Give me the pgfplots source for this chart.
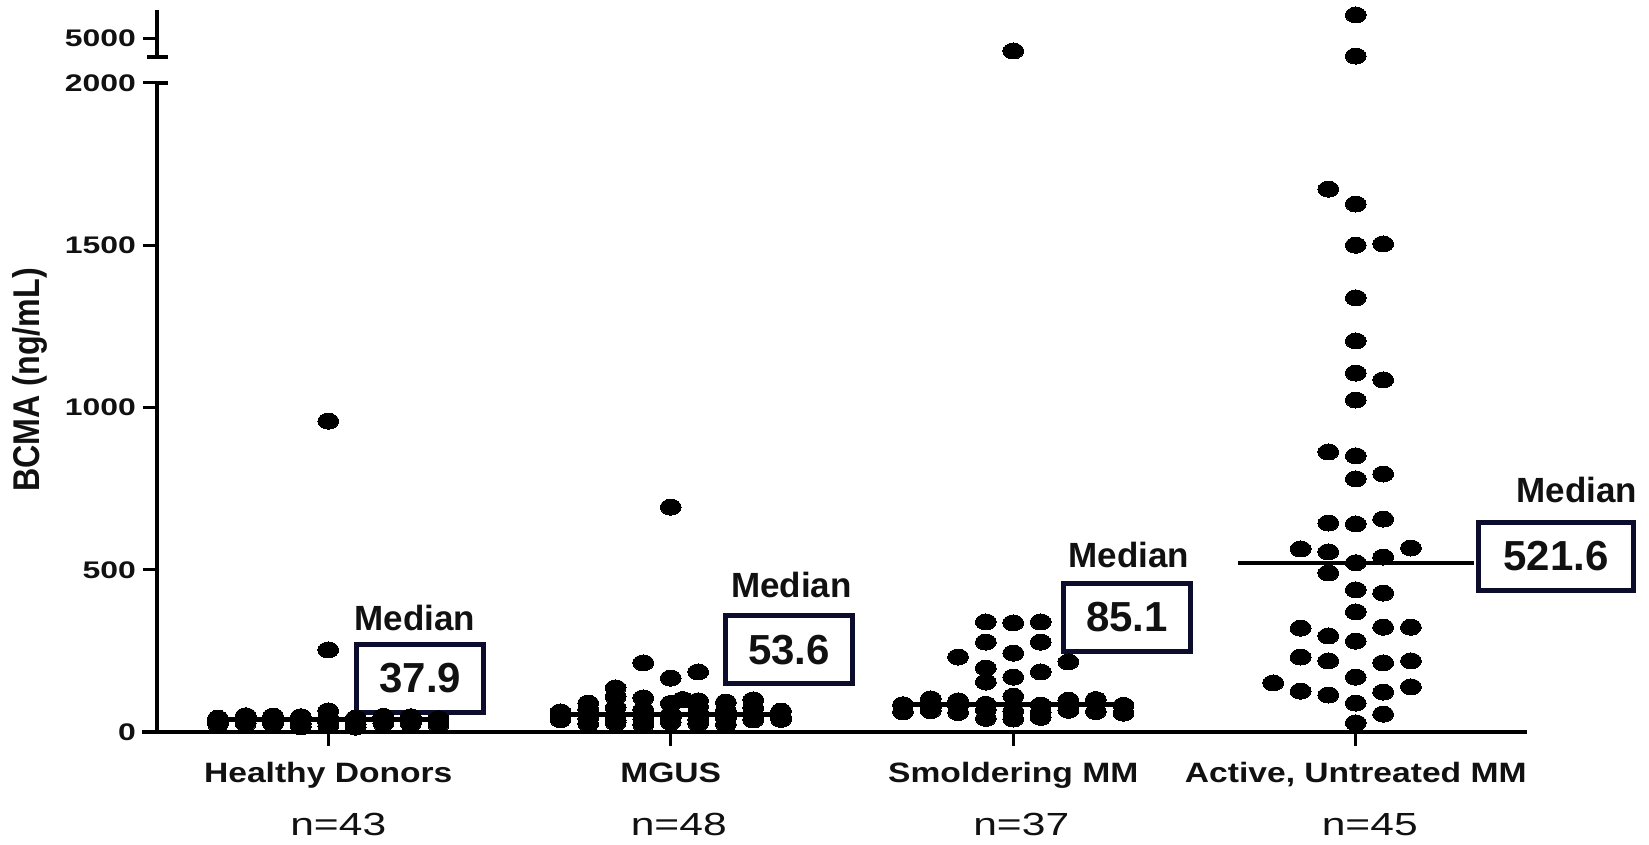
\documentclass[border=0pt]{standalone}
\usepackage{pgfplots}
\pgfplotsset{compat=1.18}
\usepackage{fontspec}
\usepackage{graphicx}
\setmainfont{Liberation Sans}
\newfontfamily\tickfont[FakeStretch=1.33]{Liberation Sans}
\newfontfamily\catfont[FakeStretch=1.2]{Liberation Sans}
\definecolor{boxnavy}{RGB}{12,12,45}
\definecolor{txt}{RGB}{17,17,17}
\begin{document}
\begin{tikzpicture}
\pgfplotsset{
  dotstyle/.style={only marks, mark=*, mark size=4pt,
    mark options={xscale=1.3, fill=black, draw=black, line width=0pt}},
  medline/.style={black, mark=none, line width=2.2pt},
}
\tikzset{
  medlab/.style={anchor=base, text=txt, font=\bfseries\fontsize{17.5}{20}\selectfont},
  medbox/.style={draw=boxnavy, line width=2.5pt, minimum width=63.5pt, minimum height=34pt,
    inner sep=0pt, text=txt, font=\bfseries\fontsize{21}{24}\selectfont},
  catlab/.style={anchor=base, text=txt, font=\catfont\bfseries\fontsize{14}{16}\selectfont, yshift=-25.5pt},
  nlab/.style={anchor=base, text=txt, font=\tickfont\fontsize{16}{18}\selectfont, yshift=-52pt},
}
% ---------- lower segment 0 - 2000 ----------
\begin{axis}[
  scale only axis, width=685pt, height=324.5pt,
  xmin=-0.5, xmax=3.5, ymin=0, ymax=2000,
  axis lines=left, axis line style={-, line width=2pt},
  xtick={0,1,2,3}, xticklabels={,,,},
  ytick={0,500,1000,1500,2000}, yticklabels={0,500,1000,1500,2000},
  yticklabel style={font=\tickfont\bfseries\fontsize{12}{14}\selectfont, text=txt},
  tick align=outside, major tick length=7pt,
  tick style={line width=1.5pt, black},
  clip=false,
]
% Healthy Donors
\addplot[dotstyle] coordinates {
(0,958) (0,253)
(-0.241,50) (-0.161,49) (-0.080,47) (0,65) (0.161,48) (0.241,47)
(-0.322,42) (-0.241,40) (-0.161,43) (-0.080,41) (0,44) (0.080,42) (0.161,40) (0.241,43) (0.322,41)
(-0.080,39) (0,39.5) (0.080,38.5) (0.161,39)
(-0.161,37.9)
(-0.322,33) (-0.241,35) (-0.161,32) (-0.080,34) (0,36) (0.080,33) (0.161,35) (0.241,32) (0.322,34)
(-0.322,24) (-0.241,26) (-0.161,25) (-0.080,27) (0,28) (0.080,24) (0.161,26) (0.241,25) (0.322,22)
(-0.080,16) (0.080,15) (0,18)
};
% MGUS
\addplot[dotstyle] coordinates {
(1,693) (0.920,213) (1,166) (1.080,185) (0.839,136) (0.759,89) (0.839,108) (0.920,105)
(1.035,100) (1.080,96) (1.161,92) (1.241,99) (1,88)
(0.678,62) (0.759,70) (0.839,75) (0.920,68) (1.080,78) (1.161,66) (1.241,74) (1.322,64) (0.920,58) (1.080,60) (1,54)
(0.678,50) (0.759,52) (0.839,48) (0.920,53.2) (1,51) (1.080,50) (1.161,49) (1.241,52) (1.322,47)
(0.678,38) (0.759,42) (0.839,36) (0.920,40) (1,44) (1.080,38) (1.161,41) (1.241,37) (1.322,39)
(0.759,25) (0.839,28) (0.920,22) (1,30) (1.080,26) (1.161,24)
};
% Smoldering MM
\addplot[dotstyle] coordinates {
(1.920,339) (2,336) (2.080,339) (1.920,277) (2.080,277) (1.839,231) (2,243) (2.161,216)
(1.920,197) (1.920,154) (2,169) (2.080,185)
(1.759,102) (1.839,96) (2,110) (2.161,98) (2.241,100)
(1.678,84) (1.920,85.1) (2.080,83) (2.322,82) (1.839,80) (2.161,79)
(1.678,62) (1.759,66) (1.839,60) (1.920,68) (2,64) (2.080,61) (2.161,67) (2.241,63) (2.322,58)
(1.920,42) (2,40) (2.080,45) (1.759,75)
};
% Active, Untreated MM
\addplot[dotstyle] coordinates {
(2.920,1673) (3,1627) (3,1500) (3.080,1504) (3,1338) (3,1205) (3,1106) (3.080,1085) (3,1023)
(2.920,863) (3,851) (3.080,795) (3,780) (2.920,644) (3,641) (3.080,656)
(2.839,564) (2.920,555) (3.080,539) (3.161,567) (3,521.6) (2.920,490)
(3,438) (3.080,428) (3,370) (2.839,320) (2.920,296) (3,280) (3.080,323) (3.161,323)
(2.839,231) (2.920,219) (3.080,213) (3.161,219) (3,169)
(2.759,151) (2.839,126) (2.920,114) (3.080,123) (3.161,139) (3,89) (3.080,55) (3,28)
};
% medians
\addplot[medline] coordinates {(-0.345,37.9) (0.345,37.9)};
\addplot[medline] coordinates {(0.655,53.6) (1.345,53.6)};
\addplot[medline] coordinates {(1.655,85.1) (2.345,85.1)};
\addplot[medline] coordinates {(2.655,521.6) (3.345,521.6)};
% median annotations
\node[medlab] at (axis cs:0.253,314) {Median};
\node[medbox] at (axis cs:0.269,165) {37.9};
\node[medlab] at (axis cs:1.352,413) {Median};
\node[medbox] at (axis cs:1.345,254) {53.6};
\node[medlab] at (axis cs:2.338,508) {Median};
\node[medbox] at (axis cs:2.332,353) {85.1};
\node[medlab] at (axis cs:3.646,706) {Median};
\node[medbox, minimum width=77.5pt] at (axis cs:3.585,541) {521.6};
% category labels
\node[catlab] at (axis cs:0,0) {Healthy Donors};
\node[catlab] at (axis cs:1,0) {MGUS};
\node[catlab] at (axis cs:2,0) {Smoldering MM};
\node[catlab] at (axis cs:3,0) {Active, Untreated MM};
\node[nlab, xshift=5pt] at (axis cs:0,0) {n=43};
\node[nlab, xshift=4pt] at (axis cs:1,0) {n=48};
\node[nlab, xshift=4pt] at (axis cs:2,0) {n=37};
\node[nlab, xshift=7pt] at (axis cs:3,0) {n=45};
\end{axis}
% ---------- upper segment around 5000 ----------
\begin{axis}[
  at={(0pt,337.5pt)}, anchor=south west,
  scale only axis, width=685pt, height=23.5pt,
  xmin=-0.5, xmax=3.5, ymin=4000, ymax=6500,
  axis x line=none, axis y line=left, axis line style={-, line width=2pt},
  ytick={5000}, yticklabels={5000},
  yticklabel style={font=\tickfont\bfseries\fontsize{12}{14}\selectfont, text=txt},
  tick align=outside, major tick length=7pt,
  tick style={line width=1.5pt, black},
  clip=false,
]
\addplot[dotstyle] coordinates {(2,4319) (3,6234) (3,4050)};
\end{axis}
% axis break caps and x-axis left overhang
\draw[line width=2pt] (-5pt,337.5pt) -- (5.5pt,337.5pt);
\draw[line width=2pt] (0pt,324.5pt) -- (5.5pt,324.5pt);
\draw[line width=2pt] (-7.5pt,0pt) -- (0pt,0pt);
% y label
\node[rotate=90, text=txt, font=\bfseries\fontsize{14}{16}\selectfont] at (-63.5pt,176pt) {\scalebox{1.15}[1.33]{BCMA (ng/mL)}};
\pgfresetboundingbox
\path[use as bounding box] (-78.5pt,-56.5pt) rectangle (746pt,366pt);
\end{tikzpicture}
\end{document}
